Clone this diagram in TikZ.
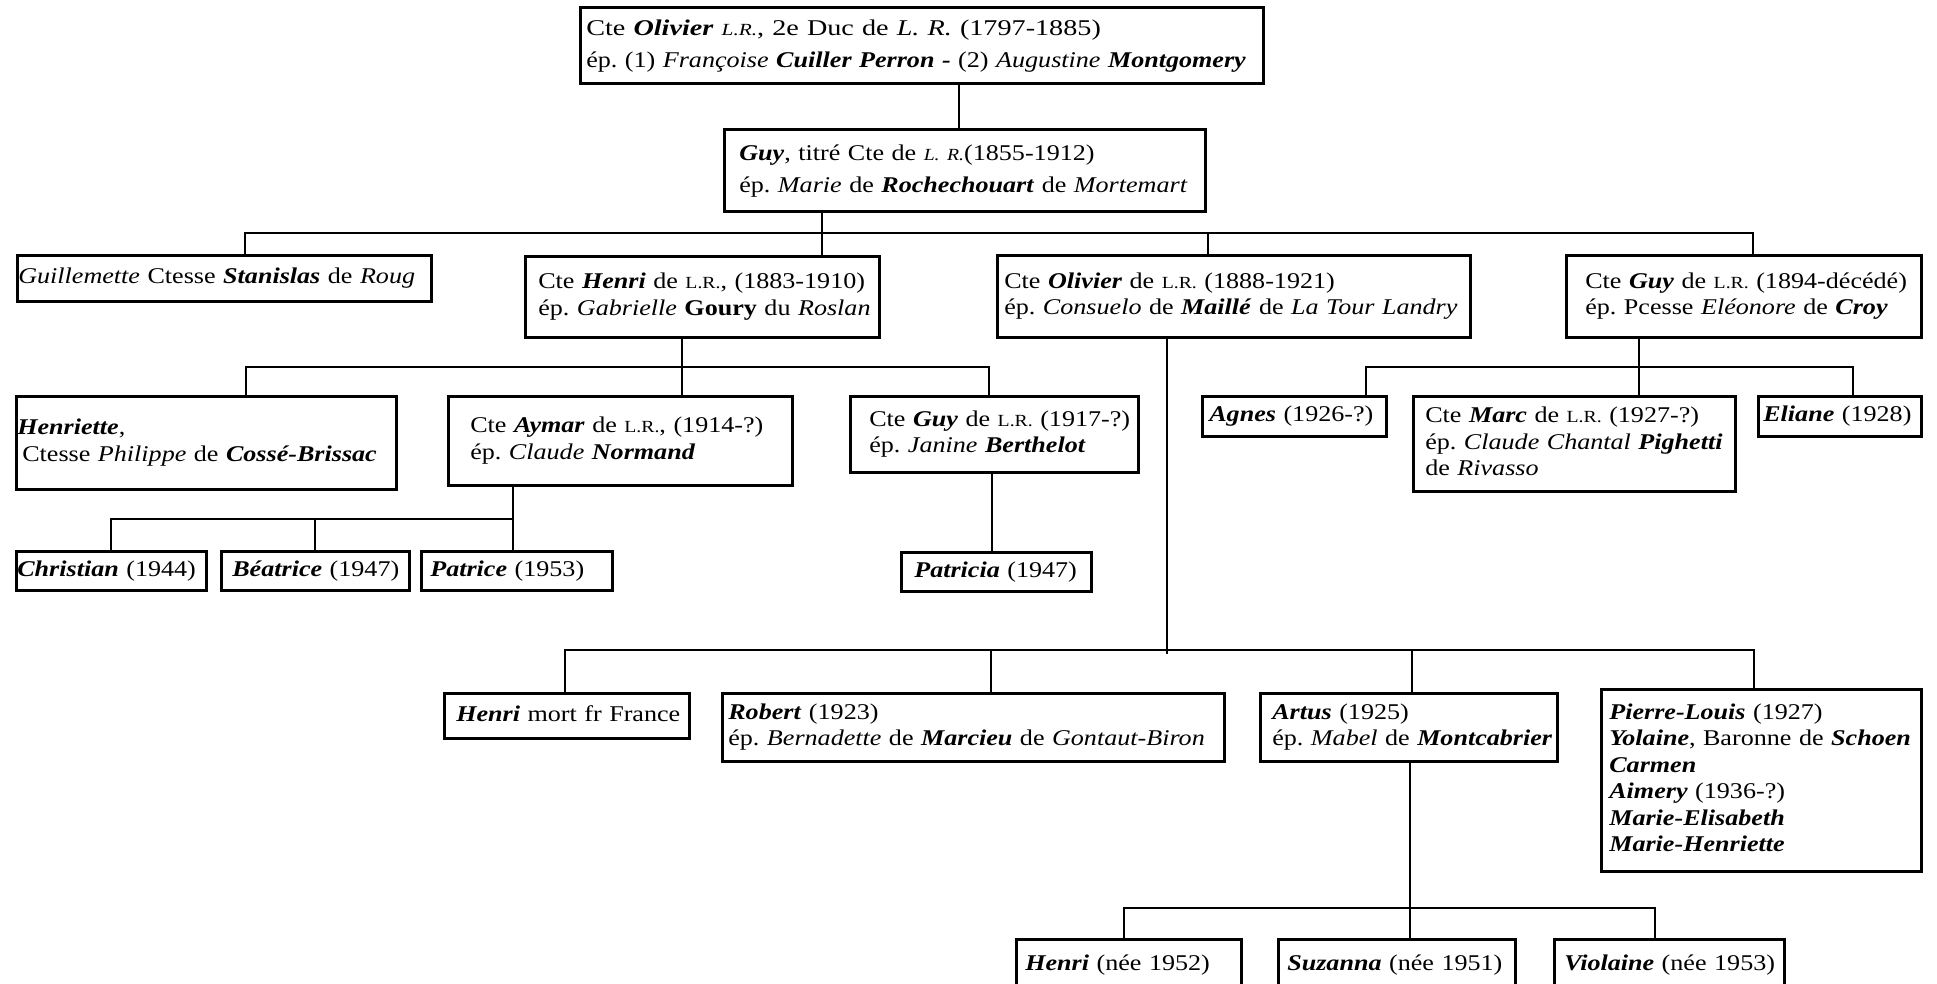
\documentclass[tikz,border=0pt]{standalone}
\usepackage{fontspec}
\setmainfont{Liberation Serif}[FakeStretch=1.16]
\frenchspacing
\newcommand\bi[1]{\textbf{\textit{#1}}}
\newcommand\sm[1]{{\fontsize{17pt}{17pt}\selectfont #1}}
\newcommand\tb[1]{\begin{tabular}{@{}l@{}}#1\end{tabular}}
\tikzset{
  box/.style={draw, line width=2.6pt, anchor=north west, align=left, inner ysep=0pt,
    font=\fontsize{22.5pt}{26.5pt}\selectfont},
  conn/.style={line width=2.4pt, line cap=rect, line join=miter},
}
\begin{document}
\begin{tikzpicture}[x=1pt,y=-1pt]
\fill[white] (0,0) rectangle (1937,983);
\clip (0,0) rectangle (1937,983);

% generation 1-2
\node[box, font=\fontsize{22.5pt}{32pt}\selectfont, minimum width=683pt, minimum height=76pt, text width=671pt, inner xsep=6pt] (top) at (579,6)
  {\tb{\scalebox{1.08}[1]{Cte \bi{Olivier} \textit{\sm{L.R.}}, 2e Duc de \textit{L. R.} (1797-1885)}\\ ép. (1) \textit{Françoise} \bi{Cuiller Perron -} (2) \textit{Augustine} \bi{Montgomery}}};
\node[box, font=\fontsize{22.5pt}{32pt}\selectfont, minimum width=481pt, minimum height=82pt, text width=451pt, inner xsep=15pt] (guy) at (723,128)
  {\tb{\bi{Guy}, titré Cte de \textit{\sm{L. R.}}(1855-1912)\\ ép. \textit{Marie} de \bi{Rochechouart} de \textit{Mortemart}}};

% generation 3
\node[box, minimum width=414pt, minimum height=46pt, text width=412pt, inner xsep=1pt] (guil) at (16,254)
  {\tb{\textit{Guillemette} Ctesse \bi{Stanislas} de \textit{Roug}}};
\node[box, minimum width=354pt, minimum height=81pt, text width=328pt, inner xsep=13pt] (henri) at (524,255)
  {\tb{Cte \bi{Henri} de \sm{L.R.}, (1883-1910)\\ ép. \textit{Gabrielle} \textbf{Goury} du \textit{Roslan}}};
\node[box, minimum width=473pt, minimum height=82pt, text width=459pt, inner xsep=7pt] (oliv) at (996,254)
  {\tb{Cte \bi{Olivier} de \sm{L.R.} (1888-1921)\\ ép. \textit{Consuelo} de \bi{Maillé} de \textit{La Tour Landry}}};
\node[box, minimum width=355pt, minimum height=82pt, text width=317pt, inner xsep=19pt] (g1894) at (1565,254)
  {\tb{Cte \bi{Guy} de \sm{L.R.} (1894-décédé)\\ ép. Pcesse \textit{Eléonore} de \bi{Croy}}};

% children of Henri
\node[box, minimum width=380pt, minimum height=93pt, text width=378pt, inner xsep=1pt] (hette) at (15,395)
  {\tb{\bi{Henriette},\\ \hspace{5pt}Ctesse \textit{Philippe} de \bi{Cossé-Brissac}}};
\node[box, minimum width=344pt, minimum height=89pt, text width=300pt, inner xsep=22pt] (aymar) at (447,395)
  {\tb{Cte \bi{Aymar} de \sm{L.R.}, (1914-?)\\ ép. \textit{Claude} \bi{Normand}}};
\node[box, minimum width=288pt, minimum height=76pt, text width=250pt, inner xsep=19pt] (g1917) at (849,395)
  {\tb{Cte \bi{Guy} de \sm{L.R.} (1917-?)\\ ép. \textit{Janine} \bi{Berthelot}}};

% children of Aymar and Guy (1917)
\node[box, minimum width=190pt, minimum height=39pt, text width=188pt, inner xsep=1pt] (chris) at (15,550)
  {\tb{\bi{Christian} (1944)}};
\node[box, minimum width=188pt, minimum height=39pt, text width=166pt, inner xsep=11pt] (beat) at (220,550)
  {\tb{\bi{Béatrice} (1947)}};
\node[box, minimum width=191pt, minimum height=39pt, text width=173pt, inner xsep=9pt] (patr) at (420,550)
  {\tb{\bi{Patrice} (1953)}};
\node[box, minimum width=190pt, minimum height=39pt, text width=164pt, inner xsep=13pt] (ptca) at (900,551)
  {\tb{\bi{Patricia} (1947)}};

% children of Guy (1894)
\node[box, minimum width=184pt, minimum height=40pt, text width=170pt, inner xsep=7pt] (agnes) at (1201,395)
  {\tb{\bi{Agnes} (1926-?)}};
\node[box, minimum width=322pt, minimum height=95pt, text width=298pt, inner xsep=12pt] (marc) at (1412,395)
  {\tb{Cte \bi{Marc} de \sm{L.R.} (1927-?)\\ ép. \textit{Claude Chantal} \bi{Pighetti}\\ de \textit{Rivasso}}};
\node[box, minimum width=163pt, minimum height=40pt, text width=153pt, inner xsep=5pt] (eliane) at (1757,395)
  {\tb{\bi{Eliane} (1928)}};

% children of Olivier (1888)
\node[box, minimum width=245pt, minimum height=45pt, text width=221pt, inner xsep=12pt] (hmort) at (443,692)
  {\tb{\bi{Henri} mort fr France}};
\node[box, minimum width=502pt, minimum height=68pt, text width=490pt, inner xsep=6pt] (robert) at (721,692)
  {\tb{\bi{Robert} (1923)\\ ép. \textit{Bernadette} de \bi{Marcieu} de \textit{Gontaut-Biron}}};
\node[box, minimum width=297pt, minimum height=68pt, text width=273pt, inner xsep=12pt] (artus) at (1259,692)
  {\tb{\bi{Artus} (1925)\\ ép. \textit{Mabel} de \bi{Montcabrier}}};
\node[box, minimum width=320pt, minimum height=182pt, text width=304pt, inner xsep=8pt] (pierre) at (1600,688)
  {\tb{\bi{Pierre-Louis} (1927)\\ \bi{Yolaine}, Baronne de \bi{Schoen}\\ \bi{Carmen}\\ \bi{Aimery} (1936-?)\\ \bi{Marie-Elisabeth}\\ \bi{Marie-Henriette}}};

% children of Artus
\node[box, minimum width=225pt, minimum height=52pt, text width=207pt, inner xsep=9pt] (h52) at (1015,938)
  {\tb{\bi{Henri} (née 1952)}};
\node[box, minimum width=237pt, minimum height=52pt, text width=219pt, inner xsep=9pt] (suz) at (1277,938)
  {\tb{\bi{Suzanna} (née 1951)}};
\node[box, minimum width=230pt, minimum height=52pt, text width=210pt, inner xsep=10pt] (vio) at (1553,938)
  {\tb{\bi{Violaine} (née 1953)}};

% connectors
\draw[conn] ([xshift=380pt]top.south west) -- ([xshift=236pt]guy.north west);
\draw[conn] ([xshift=99pt]guy.south west) -- ([xshift=298pt]henri.north west);
\draw[conn] ([xshift=229pt]guil.north west) -- ++(0,-21) -| ([xshift=188pt]g1894.north west);
\draw[conn] ([xshift=212pt]oliv.north west) -- ++(0,-21);

\draw[conn] ([xshift=158pt]henri.south west) -- ([xshift=235pt]aymar.north west);
\draw[conn] ([xshift=231pt]hette.north west) -- ++(0,-28) -| ([xshift=140pt]g1917.north west);

\draw[conn] ([xshift=66pt]aymar.south west) -- ([xshift=93pt]patr.north west);
\draw[conn] ([xshift=96pt]chris.north west) -- ++(0,-31) -| ([xshift=93pt]patr.north west);
\draw[conn] ([xshift=95pt]beat.north west) -- ++(0,-31);

\draw[conn] ([xshift=143pt]g1917.south west) -- ([xshift=92pt]ptca.north west);

\draw[conn] ([xshift=171pt]oliv.south west) -- ++(0,314);
\draw[conn] ([xshift=122pt]hmort.north west) -- ++(0,-42) -| ([xshift=154pt]pierre.north west);
\draw[conn] ([xshift=270pt]robert.north west) -- ++(0,-42);
\draw[conn] ([xshift=153pt]artus.north west) -- ++(0,-42);

\draw[conn] ([xshift=74pt]g1894.south west) -- ([xshift=227pt]marc.north west);
\draw[conn] ([xshift=165pt]agnes.north west) -- ++(0,-28) -| ([xshift=96pt]eliane.north west);

\draw[conn] ([xshift=151pt]artus.south west) -- ([xshift=133pt]suz.north west);
\draw[conn] ([xshift=109pt]h52.north west) -- ++(0,-30) -| ([xshift=102pt]vio.north west);
\end{tikzpicture}
\end{document}
